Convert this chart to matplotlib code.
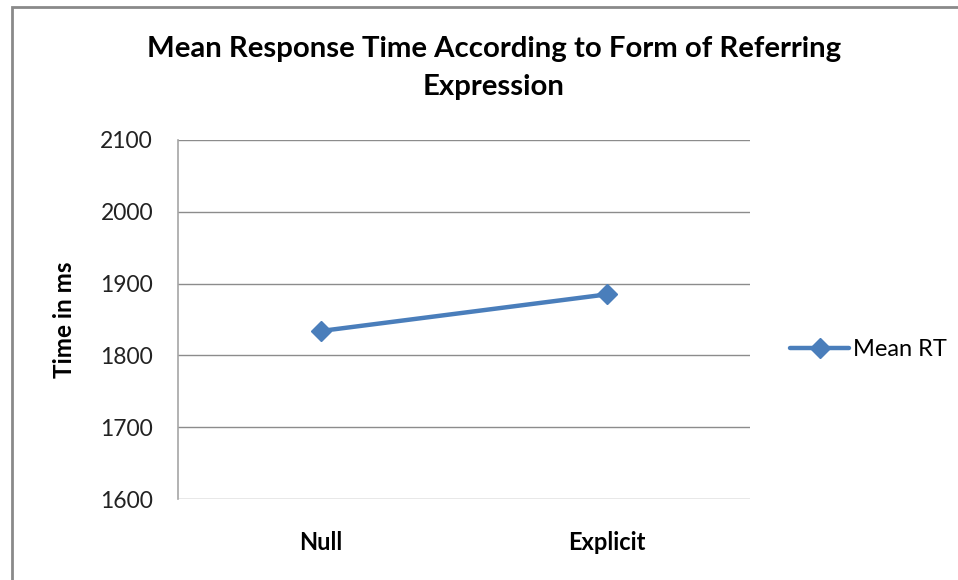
import matplotlib
matplotlib.use("Agg")
import matplotlib.pyplot as plt
from matplotlib.patches import Rectangle

categories = ["Null", "Explicit"]
mean_rt = [1834, 1885]
yticks = [1600, 1700, 1800, 1900, 2000, 2100]

plt.rcParams['font.family'] = ['Lato', 'DejaVu Sans']

fig = plt.figure(figsize=(9.58, 5.80), dpi=100)
ax = fig.add_axes([178/958, 1-499/580, (750-178)/958, (499-140)/580])

grey = '#8c8c8c'
x = list(range(len(categories)))
ax.plot(x, mean_rt, color='#4a7ebb', lw=3.2, marker='D', markersize=10,
        label='Mean RT', solid_capstyle='round')

ax.set_xlim(-0.5, len(categories) - 0.5)
ax.set_ylim(yticks[0], yticks[-1])
ax.set_yticks(yticks)
ax.set_xticks(x)
ax.set_xticklabels(categories, fontweight='bold', fontsize=17)
ax.tick_params(axis='y', length=0, pad=18, labelsize=16.5, labelcolor='#222222')
ax.tick_params(axis='x', length=0, pad=23)
ax.grid(axis='y', color=grey, lw=1)
ax.set_axisbelow(True)
for s in ['top', 'right', 'bottom']:
    ax.spines[s].set_visible(False)
ax.spines['left'].set_color('#a6a6a6')
ax.spines['left'].set_linewidth(1.2)

ax.set_ylabel('Time in ms', fontweight='bold', fontsize=17.5)
ax.yaxis.set_label_coords(76/958, 1-320/580, transform=fig.transFigure)

fig.text(494/958, 1-68/580, 'Mean Response Time According to Form of Referring\nExpression',
         ha='center', va='center', fontsize=21.2, fontweight='bold', linespacing=1.55)

leg = ax.legend(loc='center left', bbox_to_anchor=(790/958, 1-350/580),
                bbox_transform=fig.transFigure, frameon=False, fontsize=17,
                handlelength=2.5, handletextpad=0.15, borderaxespad=0, borderpad=0)

fig.patches.append(Rectangle((12/958, -0.1), 1.2, 1.1 - 7/580, transform=fig.transFigure,
                             fill=False, edgecolor='#8a8a8a', lw=2))

fig.savefig('out.png', dpi=100)
